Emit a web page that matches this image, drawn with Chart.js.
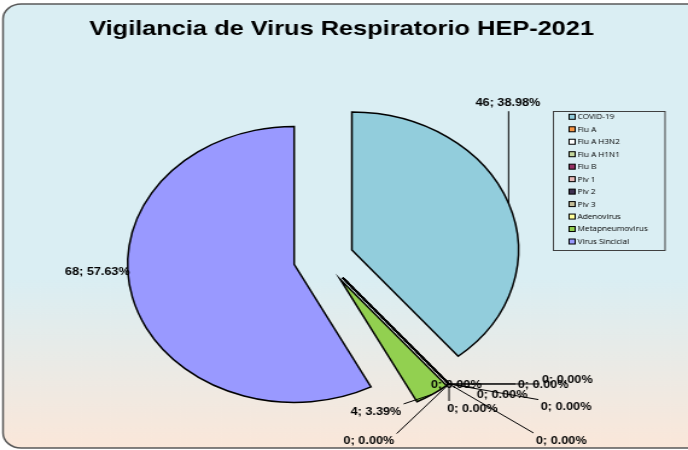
<!DOCTYPE html>
<html>
<head>
<meta charset="utf-8">
<script src="https://cdn.jsdelivr.net/npm/chart.js@4.4.1/dist/chart.umd.min.js"></script>
<style>
    html, body { margin: 0; padding: 0; background: #fff; overflow: hidden; }
    /* the reference picture is stretched sideways, so the whole chart is too */
    #wrap { width: 570px; height: 450px; transform: scaleX(1.207); transform-origin: 0 0; }
</style>
</head>
<body>
<div id="wrap"><canvas id="pieChart" width="570" height="450"></canvas></div>
<script>
const chartTitle = 'Vigilancia de Virus Respiratorio HEP-2021';
const categories = ['COVID-19', 'Flu A', 'Flu A H3N2', 'Flu A H1N1', 'Flu B', 'Piv 1', 'Piv 2', 'Piv 3', 'Adenovirus', 'Metapneumovirus', 'Virus Sincicial'];
const cases = [46, 0, 0, 0, 0, 0, 0, 0, 0, 4, 68];
const sliceColors = ['#92CDDC', '#F79646', '#FFFFFF', '#C3D69B', '#953163', '#E6B9B8', '#403152', '#C4BD97', '#FFFF99', '#92D050', '#9999FF'];

// label position relative to the outer middle point of each slice, and whether a leader line is drawn
const labelShift = [[-0.5, -100], [6, 1], [78, 1], [98, -3.4], [44, 11.6], [97, 23.6], [19.4, 25], [-66.4, 57.6], [93, 57], [-46.7, 17.6], [-29, -25]];
const leaderLine = [true, true, true, true, true, true, true, true, true, true, false];

const EXPLODE = 25;
const total = cases.reduce((a, b) => a + b, 0);

// rounded panel with the gradient fill
const bgPlugin = {
    id: 'panel',
    beforeDraw(chart) {
        const ctx = chart.ctx;
        const grad = ctx.createLinearGradient(0, 0, 0, chart.height);
        grad.addColorStop(0, '#DAEEF3');
        grad.addColorStop(0.62, '#DAEEF3');
        grad.addColorStop(1, '#FBE7D9');
        ctx.save();
        ctx.beginPath();
        ctx.roundRect(2.5, 4, chart.width + 20, 444, 15);
        ctx.fillStyle = grad;
        ctx.fill();
        ctx.lineWidth = 1.5;
        ctx.strokeStyle = '#595959';
        ctx.stroke();

        ctx.fillStyle = '#000';
        ctx.font = 'bold 21px "Liberation Sans", Arial, sans-serif';
        ctx.textAlign = 'center';
        ctx.textBaseline = 'alphabetic';
        ctx.fillText(chartTitle, 283, 35);
        ctx.restore();
    }
};

// every slice pulled away from the centre by the same distance
const explodePlugin = {
    id: 'explode',
    beforeDatasetDraw(chart, args) {
        const ctx = chart.ctx;
        args.meta.data.forEach(arc => {
            const mid = (arc.startAngle + arc.endAngle) / 2;
            ctx.save();
            ctx.translate(Math.cos(mid) * EXPLODE, Math.sin(mid) * EXPLODE);
            arc.draw(ctx, chart.chartArea);
            ctx.restore();
        });
        return false;
    }
};

const labelPlugin = {
    id: 'sliceLabels',
    afterDatasetsDraw(chart) {
        const ctx = chart.ctx;
        const arcs = chart.getDatasetMeta(0).data;
        ctx.save();
        ctx.strokeStyle = '#000';
        ctx.lineWidth = 1.5;
        // empty slices still show their edge
        arcs.forEach((arc, i) => {
            if (cases[i] !== 0) return;
            const a = arc.startAngle;
            ctx.beginPath();
            ctx.moveTo(arc.x + Math.cos(a) * EXPLODE, arc.y + Math.sin(a) * EXPLODE);
            ctx.lineTo(arc.x + Math.cos(a) * (EXPLODE + arc.outerRadius), arc.y + Math.sin(a) * (EXPLODE + arc.outerRadius));
            ctx.stroke();
        });

        ctx.font = 'bold 10.5px "Liberation Sans", Arial, sans-serif';
        ctx.textAlign = 'center';
        ctx.textBaseline = 'middle';
        ctx.lineWidth = 1;
        arcs.forEach((arc, i) => {
            const mid = (arc.startAngle + arc.endAngle) / 2;
            const ax = arc.x + Math.cos(mid) * (EXPLODE + arc.outerRadius);
            const ay = arc.y + Math.sin(mid) * (EXPLODE + arc.outerRadius);
            const cx = ax + labelShift[i][0];
            const cy = ay + labelShift[i][1];
            const text = cases[i] + '; ' + (cases[i] / total * 100).toFixed(2) + '%';
            const hw = ctx.measureText(text).width / 2 + 2;
            const hh = 8;
            const ex = Math.min(Math.max(ax, cx - hw), cx + hw);
            const ey = Math.min(Math.max(ay, cy - hh), cy + hh);
            if (leaderLine[i] && Math.hypot(ex - ax, ey - ay) > 3) {
                ctx.beginPath();
                ctx.moveTo(ax, ay);
                ctx.lineTo(ex, ey);
                ctx.stroke();
            }
            ctx.fillStyle = '#000';
            ctx.fillText(text, cx, cy);
        });
        ctx.restore();
    },
    afterDraw(chart) {
        // legend box
        const ctx = chart.ctx;
        const ds = chart.data.datasets[0];
        ctx.save();
        ctx.lineWidth = 1;
        ctx.strokeStyle = '#404040';
        ctx.strokeRect(458.5, 111.5, 92.5, 139);
        ctx.font = '6.8px "Open Sans", sans-serif';
        ctx.textAlign = 'left';
        ctx.textBaseline = 'middle';
        chart.data.labels.forEach((label, i) => {
            const y = 117.3 + i * 12.47;
            ctx.fillStyle = ds.backgroundColor[i];
            ctx.fillRect(471.5, y - 3, 5, 5);
            ctx.strokeStyle = '#000';
            ctx.strokeRect(471.5, y - 3, 5, 5);
            ctx.fillStyle = '#000';
            ctx.fillText(label, 478.5, y);
        });
        ctx.restore();
    }
};

const ctxPie = document.getElementById('pieChart').getContext('2d');
new Chart(ctxPie, {
    type: 'pie',
    data: {
        labels: categories,
        datasets: [{
            data: cases,
            backgroundColor: sliceColors,
            borderColor: '#000',
            borderWidth: 1.5,
            borderJoinStyle: 'miter',
            radius: 138
        }]
    },
    options: {
        responsive: false,
        animation: false,
        events: [],
        layout: { padding: { top: 67, right: 34 } },
        plugins: {
            legend: { display: false },
            title: { display: false },
            tooltip: { enabled: false }
        }
    },
    plugins: [bgPlugin, explodePlugin, labelPlugin]
});
</script>
</body>
</html>
